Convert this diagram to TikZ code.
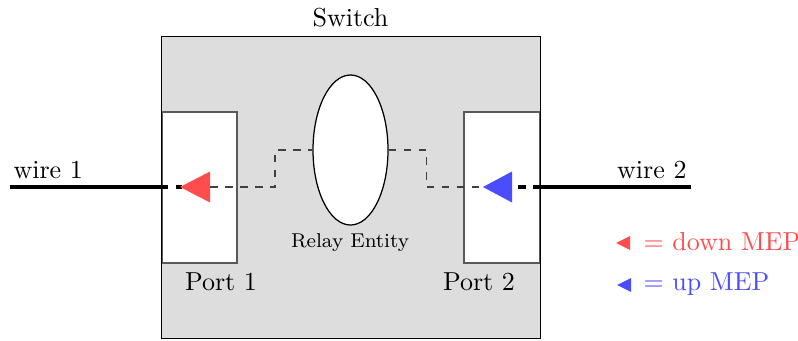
\documentclass[tikz,border=0pt]{standalone}
\usetikzlibrary{calc,shapes.geometric}
\definecolor{switchgray}{HTML}{DDDDDD}
\definecolor{downred}{HTML}{FF4C4C}
\definecolor{upblue}{HTML}{4C4CFF}
\begin{document}
\begin{tikzpicture}[x=0.4pt,y=-0.4pt,
  lbl/.style={font=\fontsize{10.4}{12.5}\selectfont, inner sep=0, anchor=base},
  smalllbl/.style={font=\footnotesize, inner sep=0, anchor=base},
  wire/.style={line width=1.3pt},
  link/.style={dashed, line width=0.45pt, black!75},
  portbox/.style={draw=black!65, fill=white, line width=0.5pt, inner sep=0},
]
\useasboundingbox (0,0) rectangle (798,340);

% switch body
\node[fill=switchgray, inner sep=0, minimum width=151.2pt, minimum height=120.4pt]
  (switch) at (351,187.5) {};

% ports
\node[portbox, minimum width=30pt, minimum height=60.4pt] (port1) at (199.5,187.5) {};
\node[portbox, minimum width=30.4pt, minimum height=60.4pt] (port2) at (502,187.5) {};

% switch outline on top of the port edges
\draw[line width=0.5pt] (switch.north west) rectangle (switch.south east);

% relay entity
\node[draw, fill=white, ellipse, inner sep=0, line width=0.5pt,
  minimum width=30pt, minimum height=60pt] (relay) at (350.5,150) {};

% MEP markers
\coordinate (dTip) at (180,187);
\coordinate (dBase) at (210,187);
\coordinate (uTip) at (483,187);
\coordinate (uBase) at (512,187);

% wires
\coordinate (w1out) at (10,187);
\coordinate (w1in) at (168,187);
\coordinate (w2out) at (691,187);
\coordinate (w2in) at (533,187);
\draw[wire] (w1out) -- (w1in);
\draw[wire] ($(dTip)+(-4,0)$) -- ($(dTip)+(2,0)$);
\draw[wire] ($(uBase)+(6,0)$) -- ($(uBase)+(14,0)$);
\draw[wire] (w2in) -- (w2out);

% internal forwarding path
\draw[link] (dBase) -- ++(65,0) |- (relay.west);
\draw[link] (relay.east) -- ++(38,0) |- (uTip);

\fill[downred] (dTip) -- ($(dBase)+(0,-15.5)$) -- ($(dBase)+(0,15.5)$) -- cycle;
\fill[upblue] (uTip) -- ($(uBase)+(0,-15.5)$) -- ($(uBase)+(0,15.5)$) -- cycle;

% labels
\node[lbl] (switchlbl) at (350.5,26.5) {Switch};
\node[smalllbl] (relaylbl) at (350,247.5) {Relay Entity};
\node[lbl] (port1lbl) at (221,290.5) {Port 1};
\node[lbl] (port2lbl) at (479,290.5) {Port 2};
\node[lbl, anchor=base west] (wire1lbl) at (13,178) {wire 1};
\node[lbl, anchor=base east] (wire2lbl) at (687,178) {wire 2};

% legend
\coordinate (legDown) at (616,243);
\coordinate (legUp) at (617,285);
\fill[downred] (legDown) -- ++(14,-7) -- ++(0,14) -- cycle;
\fill[upblue] (legUp) -- ++(14,-7) -- ++(0,14) -- cycle;
\node[lbl, anchor=base west, text=downred] (legDownlbl) at (643,250.5) {= down MEP};
\node[lbl, anchor=base west, text=upblue] (legUplbl) at (643,290.7) {= up MEP};
\end{tikzpicture}
\end{document}
